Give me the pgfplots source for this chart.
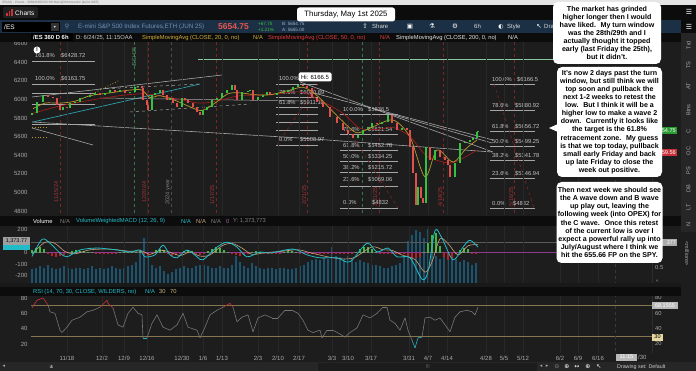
\documentclass[border=0pt]{standalone}
\usepackage{pgfplots}
\pgfplotsset{compat=1.18}
\usepackage{pgfplotstable}
\usepackage{fontspec}
\setmainfont{Liberation Sans}
\newfontfamily\dejavu{DejaVu Sans}
\newcommand{\fs}[1]{\fontsize{#1}{#1}\selectfont}

\definecolor{bg}{HTML}{1D1D1D}
\definecolor{hdr}{HTML}{0C0C0C}
\definecolor{winbar}{HTML}{E4E4E4}
\definecolor{navy}{HTML}{1B2F45}
\definecolor{lbl}{HTML}{A9A9A9}
\definecolor{fibc}{HTML}{C4C4C4}
\definecolor{tline}{HTML}{A6A6A6}
\definecolor{upg}{HTML}{34C240}
\definecolor{dnr}{HTML}{E0504C}
\definecolor{maY}{HTML}{B99A2C}
\definecolor{maR}{HTML}{A01C1C}
\definecolor{macdc}{HTML}{22BCC8}
\definecolor{sigc}{HTML}{C9A27C}
\definecolor{zeroc}{HTML}{8E3A8E}
\definecolor{volc}{HTML}{1A5470}
\definecolor{rsig}{HTML}{767676}
\definecolor{rsir}{HTML}{C8323A}
\definecolor{rsic}{HTML}{25B5C2}
\definecolor{band}{HTML}{857650}
\definecolor{dred}{HTML}{7E2424}
\definecolor{dredt}{HTML}{A03636}
\definecolor{dgreen}{HTML}{2F7A48}
\definecolor{gridc}{HTML}{282828}
\definecolor{histg}{HTML}{3DB843}
\definecolor{histr}{HTML}{B4232A}
\definecolor{tealline}{HTML}{2AA2AE}
\definecolor{hgreen}{HTML}{86C99C}
\definecolor{sidebar}{HTML}{262626}
\definecolor{emini}{HTML}{7391B6}
\definecolor{lastred}{HTML}{E8554E}
\definecolor{chg}{HTML}{3CC83C}
\definecolor{smaY}{HTML}{D4B13C}
\definecolor{smaR}{HTML}{E23B3B}
\definecolor{thirty}{HTML}{E6D8A0}
\definecolor{tan}{HTML}{C8B480}

\pgfplotsset{
  colormap={rsimap}{color(0cm)=(rsic) color(1cm)=(rsig) color(2cm)=(rsir) color(3cm)=(rsir)},
  pane/.style={
    scale only axis, width=621pt, xmin=31, xmax=652,
    axis line style={draw=none}, major tick length=0pt,
    xtick={67,102,124,147,182,203,222,258,278,299,332,348,371,409,428,447,486,504,523,560,578,598},
    xticklabels={},
    xmajorgrids, major grid style={draw=gridc, line width=0.5pt},
    yticklabel style={font=\fs{6}, text=lbl, /pgf/number format/assume math mode=true, /pgf/number format/1000 sep={}},
  },
}

\pgfplotstableread{
x o c
32 5830 5850
37 5850 5975
43 5975 6047
48 6047 6029
53 6029 6012
57 6012 5940
60 5940 5886
63 5886 5921
67 5921 5904
70 5904 5958
75 5958 5975
80 5975 6012
85 6012 6030
90 6030 6047
95 6047 6065
100 6065 6047
105 6047 6065
110 6065 6101
115 6101 6083
120 6083 6101
125 6101 6065
130 6065 6083
135 6083 6136
138 6136 6144
142 6144 6119
143 6119 5993
147 5993 5940
148 5940 5886
152 5886 6047
155 6047 6065
160 6065 6101
163 6101 6047
167 6047 5993
170 5993 6012
173 6012 5958
177 5958 5921
182 5921 6012
185 6012 5993
188 5993 5958
193 5958 5921
197 5921 5867
200 5867 5832
203 5832 5886
207 5886 5921
212 5921 5993
217 5993 6012
222 6012 6065
227 6065 6101
232 6101 6155
235 6155 6101
237 6101 5993
242 5993 6079
248 6079 6090
250 6090 6101
253 6101 5993
258 5993 6026
263 6026 6047
267 6047 6079
270 6079 6047
277 6047 6069
283 6069 6079
288 6079 6101
293 6101 6133
298 6133 6155
303 6155 6144
307 6144 6122
312 6122 6015
317 6015 5972
323 5972 5918
330 5918 5810
337 5810 5746
343 5746 5671
348 5671 5628
353 5628 5585
358 5585 5617
363 5617 5671
368 5671 5703
372 5703 5746
377 5746 5735
382 5735 5757
388 5757 5832
392 5832 5746
397 5746 5671
402 5671 5692
407 5692 5671
410 5671 5488
413 5488 5209
416 5209 4865
418 4865 5058
421 5058 4940
423 4940 4886
426 4886 5488
430 5488 5348
435 5348 5456
440 5456 5381
445 5381 5348
448 5348 5295
450 5295 5166
455 5166 5316
460 5316 5531
465 5531 5542
470 5542 5563
473 5563 5585
477 5585 5649
478 5649 5655
}\pricedata

\pgfplotstableread{
x v
32 20
36 40
40 50
44 35
48 -15
52 -30
56 -35
60 -30
64 -20
68 5
72 15
76 20
80 18
84 15
88 10
92 5
96 -5
100 -8
104 -10
108 -8
112 -6
116 -4
120 2
124 3
128 2
132 5
136 10
140 15
144 -10
148 -25
152 -15
156 20
160 35
164 25
168 -10
172 -25
176 -20
180 -10
184 15
188 25
192 15
196 -15
200 -20
204 -10
208 15
212 35
216 45
220 40
224 25
228 10
232 -10
236 -20
240 -25
244 -20
248 -10
252 8
256 15
260 10
264 -5
268 -8
272 -10
276 -6
280 -3
284 5
288 12
292 15
296 8
300 -5
304 -10
308 -15
312 -15
316 -12
320 -10
324 -8
328 -5
332 -3
336 -5
340 -10
344 -15
348 -15
352 -10
356 5
360 30
364 50
368 45
372 30
376 10
380 -8
384 -12
388 -10
392 -15
396 -12
400 -10
404 -15
408 -30
412 -45
416 -50
420 -40
424 10
428 80
432 150
436 170
440 60
444 -40
448 -60
452 -45
456 -10
460 20
464 40
468 35
472 -5
476 -15
}\histdata

\pgfplotstableread{
x m
32 .45
36 .5
40 .55
44 .5
48 .6
52 .5
56 .45
60 .5
64 .55
68 .5
72 .45
76 .5
80 .5
84 .45
88 .5
92 .55
96 .45
100 .5
104 .45
108 .5
112 .55
116 .5
120 .45
124 .5
128 .55
132 .6
136 .7
140 1.1
144 1.5
148 .9
152 .6
156 .5
160 .55
164 .4
168 .3
172 .35
176 .45
180 .5
184 .55
188 .5
192 .5
196 .55
200 .6
204 .6
208 .55
212 .5
216 .5
220 .55
224 .5
228 .5
232 .6
236 .9
240 .7
244 .55
248 .5
252 .65
256 .55
260 .5
264 .45
268 .5
272 .5
276 .45
280 .5
284 .5
288 .45
292 .45
296 .5
300 .55
304 .6
308 .7
312 .75
316 .8
320 .75
324 .85
328 .8
332 1.2
336 .9
340 .85
344 .8
348 .9
352 .8
356 .7
360 .75
364 .7
368 .65
372 .6
376 .6
380 .55
384 .5
388 .5
392 .55
396 .6
400 .65
404 .9
408 1.4
412 1.6
416 1.75
420 1.7
424 1.5
428 1.8
432 1.3
436 .9
440 .8
444 .85
448 .8
452 .9
456 .8
460 .7
464 .75
468 .7
472 .6
476 .65
}\voldata

\begin{document}
\begin{tikzpicture}[x=1pt,y=-1pt,
  t/.style={anchor=west, inner sep=0pt},
  fl/.style={anchor=west, inner sep=0pt, text=fibc, font=\fs{5.8}},
  fibline/.style={draw=tline, line width=0.6pt},
  ann/.style={fill=white, rounded corners=5pt, align=center, inner sep=1pt, text=black, font=\bfseries\fontsize{7.1}{8.1}\selectfont}]
\useasboundingbox (0,0) rectangle (696,371);
\fill[bg] (0,0) rectangle (696,371);

% ---------- decorations behind data (price pane) ----------
\foreach \xx in {60,148,216,307,379,443,514}
  \draw[dred, dashed, line width=0.6pt] (\xx,42) -- (\xx,215);
\draw[dgreen, dashed, line width=0.6pt] (134,42) -- (134,215);
\draw[dgreen, dashed, line width=0.6pt] (362,42) -- (362,215);
\draw[gray!60!black, dashed, line width=0.6pt] (171,42) -- (171,215);
\node[rotate=90, text=dredt, font=\fs{5.6}, inner sep=0] at (56,192) {11/15/24};
\node[rotate=90, text=dredt, font=\fs{5.6}, inner sep=0] at (144,192) {12/20/24};
\node[rotate=90, text=gray, font=\fs{5.6}, inner sep=0] at (168,192) {2024 year};
\node[rotate=90, text=dredt, font=\fs{5.6}, inner sep=0] at (212,195) {1/17/25};
\node[rotate=90, text=dredt, font=\fs{5.6}, inner sep=0] at (304,195) {2/21/25};
\node[rotate=90, text=dredt, font=\fs{5.6}, inner sep=0] at (375,197) {3/21/25};
\node[rotate=90, text=dredt, font=\fs{5.6}, inner sep=0] at (440,197) {4/18/25};
\node[rotate=90, text=dredt, font=\fs{5.6}, inner sep=0] at (511,197) {5/16/25};
\node[rotate=90, text=dgreen!80!white, font=\fs{5.6}, inner sep=0] at (134,57) {/ESH25};

% left fib and lines
\node[fl] at (35,56) {161.8\%}; \node[fl] at (61,56) {\$6428.72};
\draw[fibline] (32,61) -- (95,61);
\node[fl] at (35,79) {100.0\%}; \node[fl] at (61,79) {\$6163.75};
\draw[fibline] (32,84) -- (95,84);
\draw[fibline] (32,93) -- (95,93);
\draw[fibline] (32,104) -- (95,104);
\draw[fibline] (32,124) -- (95,124);
\draw[maY, dotted, line width=0.8pt] (32,127) -- (48,127);
\draw[maY, dotted, line width=0.8pt] (32,137) -- (48,137);
\draw[maY, dotted, line width=0.8pt] (90,95) -- (120,80);
\draw[tline, line width=0.6pt] (32,128) -- (93,145);
\draw[tline, line width=0.6pt] (32,122) -- (300,138) -- (492,152);
\draw[tline, line width=0.6pt] (32,97) -- (222,75);
\draw[tealline, line width=0.7pt] (33,122) -- (200,84);
\draw[tline, dashed, line width=0.5pt] (100,89) -- (200,84);
\draw[tline, dashed, line width=0.5pt] (130,112) -- (250,104);
\draw[tline, line width=0.5pt] (100,98) -- (300,101);
\draw[hgreen, line width=0.7pt] (198,59) -- (600,59);
\draw[tline, line width=0.6pt] (300,82) -- (493,152);
\draw[tline, line width=0.6pt] (310,92) -- (493,140);
\draw[tline, line width=0.6pt] (387,113) -- (492,143);

% fib A
\foreach \yy in {84,97,107.5,114.5,122,130.5,145} \draw[fibline] (276,\yy) -- (318,\yy);
\draw[dred, dashed, line width=0.6pt] (277,145) -- (318,84);
\node[fl] at (279,79) {100.0\%};
\node[fl] at (279,93) {78.6\%}; \node[fl] at (300,93) {\$6020.89};
\node[fl] at (279,103) {61.8\%}; \node[fl] at (300,103) {\$5911.16};
\node[fl] at (279,140) {0.0\%}; \node[fl] at (300,140) {\$5508.97};
% fib B
\foreach \yy in {114.6,134.6,150.3,161.3,172.3,186,208} \draw[fibline] (340,\yy) -- (398,\yy);
\draw[dred, dashed, line width=0.6pt] (339,114.6) -- (398,208);
\node[fl] at (343,110) {100.0\%}; \node[fl] at (368,110) {\$5836.5};
\node[fl] at (343,130) {78.6\%}; \node[fl] at (368,130) {\$5621.54};
\node[fl] at (343,145.5) {61.8\%}; \node[fl] at (368,145.5) {\$5452.78};
\node[fl] at (343,156.5) {50.0\%}; \node[fl] at (368,156.5) {\$5334.25};
\node[fl] at (343,167.5) {38.2\%}; \node[fl] at (368,167.5) {\$5215.72};
\node[fl] at (343,180) {23.6\%}; \node[fl] at (368,180) {\$5069.06};
\node[fl] at (343,203) {0.0\%}; \node[fl] at (372,203) {\$4832};
% fib C
\foreach \yy in {84,110.5,131.3,146,160.6,178.7,208} \draw[fibline] (490,\yy) -- (535,\yy);
\draw[dred, dashed, line width=0.6pt] (494,84) -- (534,208);
\node[fl] at (492,79.5) {100.0\%}; \node[fl] at (517,79.5) {\$6166.5};
\node[fl] at (492,106) {78.6\%}; \node[fl] at (515,106) {\$5880.92};
\node[fl] at (492,127) {61.8\%}; \node[fl] at (515,127) {\$5656.72};
\node[fl] at (492,141.5) {50.0\%}; \node[fl] at (515,141.5) {\$5499.25};
\node[fl] at (492,156) {38.2\%}; \node[fl] at (515,156) {\$5341.78};
\node[fl] at (492,174) {23.6\%}; \node[fl] at (515,174) {\$5146.94};
\node[fl] at (492,203.5) {0.0\%}; \node[fl] at (513,203.5) {\$4832};

% ---------- PRICE AXIS ----------
\begin{axis}[pane, at={(31pt,-42pt)}, anchor=north west, height=173pt,
  ymin=4757, ymax=6617, ytick={4800,5000,5200,5400,5600,5800,6000,6200,6400,6600}]
\addplot[maR, line width=0.7pt, smooth] coordinates {(33,5850) (60,5930) (90,5990) (120,6040) (145,6060) (170,6020) (200,5960) (220,5990) (240,6040) (270,6050) (300,6080) (320,5990) (343,5850) (360,5690) (380,5680) (393,5700) (410,5600) (427,5390) (450,5316) (465,5380) (477,5456)};
\addplot[maY, line width=0.7pt, smooth] coordinates {(33,5900) (45,5960) (60,5960) (75,5980) (90,6040) (110,6070) (130,6100) (142,6100) (150,6020) (160,6040) (175,5990) (190,5920) (202,5880) (215,5960) (228,6060) (240,6070) (255,6050) (270,6050) (290,6100) (303,6130) (315,6060) (330,5900) (345,5740) (357,5640) (372,5700) (393,5778) (410,5595) (425,5166) (437,5456) (453,5327) (466,5470) (477,5563)};
\addplot[draw=none, mark=none, error bars/.cd, y dir=plus, y explicit, error mark=none,
  error bar style={draw=upg, line width=2.6pt}]
  table[x=x, y expr={\thisrow{c}>\thisrow{o} ? \thisrow{o} : nan}, y error expr={\thisrow{c}-\thisrow{o}}] {\pricedata};
\addplot[draw=none, mark=none, error bars/.cd, y dir=plus, y explicit, error mark=none,
  error bar style={draw=dnr, line width=2.6pt}]
  table[x=x, y expr={\thisrow{c}<\thisrow{o} ? \thisrow{c} : nan}, y error expr={\thisrow{o}-\thisrow{c}}] {\pricedata};
\end{axis}

% ---------- VOLUME (behind MACD) ----------
\begin{axis}[pane, at={(31pt,-226pt)}, anchor=north west, height=57pt,
  ymin=0, ymax=1.9, ytick=\empty, xmajorgrids=false]
\addplot[ycomb, volc, line width=1.5pt] table[x=x, y=m] {\voldata};
\addplot[color=gray!70!black, line width=0.5pt] coordinates {(31,1.3738) (652,1.3738)};
\end{axis}

% ---------- MACD ----------
\begin{axis}[pane, at={(31pt,-226pt)}, anchor=north west, height=57pt,
  ymin=-264, ymax=232, ytick={-200,-100,0,200}]
\addplot[zeroc, line width=0.6pt] coordinates {(31,0) (652,0)};
\addplot[ycomb, histg, line width=1.6pt] table[x=x, y expr={\thisrow{v}>0 ? \thisrow{v} : nan}] {\histdata};
\addplot[ycomb, histr, line width=1.6pt] table[x=x, y expr={\thisrow{v}<0 ? \thisrow{v} : nan}] {\histdata};
\addplot[sigc, line width=0.6pt, smooth] coordinates {(32,-10) (45,90) (55,80) (65,10) (75,-10) (90,25) (110,30) (130,12) (142,15) (150,-15) (160,20) (168,10) (180,-25) (190,5) (200,-30) (210,-20) (222,60) (232,80) (242,40) (252,-15) (265,0) (280,10) (298,25) (312,-5) (330,-40) (345,-55) (355,-40) (372,50) (383,25) (392,20) (402,-20) (415,-60) (425,-170) (432,-80) (440,120) (448,80) (458,-20) (468,60) (478,70)};
\addplot[macdc, line width=0.8pt, smooth] coordinates {(32,-34) (42,116) (50,82) (60,-3) (67,-36) (80,23) (97,40) (117,23) (130,6) (140,23) (145,-36) (155,-19) (163,65) (170,-19) (177,-45) (187,23) (197,-36) (203,-62) (217,48) (227,91) (237,48) (247,-36) (260,6) (270,-3) (293,31) (307,-19) (320,-45) (337,-45) (350,-79) (367,82) (377,6) (388,40) (397,-36) (410,-45) (422,-231) (428,-164) (435,192) (442,125) (453,-62) (463,48) (470,108) (478,48)};
\end{axis}

% ---------- RSI ----------
\begin{axis}[pane, at={(31pt,-296pt)}, anchor=north west, height=57pt,
  ymin=8.3, ymax=82.6, ytick={20,40,60,80},
  xticklabels={11/18,12/2,12/9,12/16,12/30,1/6,1/13,2/3,2/10,2/17,3/3,3/10,3/17,3/31,4/7,4/14,4/28,5/5,5/12,6/2,6/9,6/16},
  xticklabel style={font=\fs{6}, text=lbl}]
\addplot[band, line width=0.7pt] coordinates {(31,70) (652,70)};
\addplot[band, line width=0.7pt] coordinates {(31,30) (652,30)};
\addplot[mesh, colormap name=rsimap, colormap access=piecewise constant, point meta=y, point meta min=-10, point meta max=110, line width=0.6pt] coordinates {(32,67) (37,77) (43,80) (48,71) (50,62) (55,60) (60,38) (62,35) (67,42) (72,51) (80,55) (87,62) (93,64) (100,68) (107,77) (108,73) (113,67) (118,45) (123,42) (128,60) (133,68) (138,60) (142,58) (143,28) (147,28) (152,47) (157,58) (163,42) (170,38) (177,45) (183,60) (188,42) (197,38) (200,28) (205,42) (210,58) (217,64) (223,68) (230,73) (233,68) (237,49) (242,55) (248,58) (253,36) (258,54) (265,58) (272,54) (278,54) (285,64) (292,64) (298,60) (303,51) (308,38) (313,35) (320,38) (322,28) (327,38) (333,38) (340,33) (345,29) (350,35) (357,41) (363,58) (370,54) (377,60) (383,68) (387,68) (390,51) (395,47) (400,38) (405,54) (408,38) (412,25) (415,15) (418,28) (422,29) (425,54) (430,55) (435,51) (440,54) (445,45) (450,36) (455,55) (460,62) (467,64) (472,62) (475,58) (478,68)};
\end{axis}

% ---------- overlays ----------
\draw[gray!45!black, dashed, line width=0.5pt] (615,42) -- (615,353);
\draw[gray!35!black, line width=0.5pt] (652,42) -- (652,353);
\fill[white] (37,50) circle (3.5);
\node[font=\bfseries\fs{5.5}, text=black, inner sep=0] at (37,50) {!};
\node[fill=white, rounded corners=1.5pt, inner sep=1pt, font=\fs{6}, text=black, minimum width=33pt, minimum height=9pt] at (315,77) {Hi: 6166.5};

\fill[upg!80!black] (648,127.5) rectangle (677,134.5);
\node[anchor=east, inner sep=0, text=white, font=\fs{5.6}] at (676,131) {5654.75};
\fill[rsir] (648,149) rectangle (677,156);
\node[anchor=east, inner sep=0, text=white, font=\fs{5.6}] at (676,152.5) {5459.56};

\fill[macdc] (3,245) rectangle (30,250);
\fill[gray!75] (3,237.5) rectangle (30,245);
\node[inner sep=0, text=black, font=\fs{5.4}] at (16.5,241.3) {1,373.77};
\fill[gray!65] (662,239.5) rectangle (677,246.5);
\node[anchor=east, inner sep=0, text=white, font=\fs{5.4}] at (676,243) {377};
\node[anchor=west, inner sep=0, text=lbl, font=\fs{5.8}] at (655,268) {0.5};
\node[anchor=west, inner sep=0, text=lbl, font=\fs{5}] at (656,282) {\^{}};
\node[rotate=-90, inner sep=0, text=lbl, font=\fs{5.4}] at (687,254) {<millions>};

\node[anchor=west, inner sep=0, text=lbl, font=\fs{5.8}] at (655,298) {80};
\node[anchor=west, inner sep=0, text=lbl, font=\fs{5.8}] at (655,314) {60};
\node[anchor=west, inner sep=0, text=lbl, font=\fs{5.8}] at (655,329) {40};
\node[anchor=west, inner sep=0, text=lbl, font=\fs{5.8}] at (655,344) {20};
\fill[gray!55] (652,302.5) rectangle (678,309.5);
\node[inner sep=0, text=white, font=\fs{5.5}] at (665,306) {68.1555};
\fill[thirty] (652,333.5) rectangle (663,340.5);
\node[inner sep=0, text=black, font=\fs{5.5}] at (657.5,337) {30};
\fill[gray!55] (616,353.5) rectangle (637,360.5);
\node[inner sep=0, text=white, font=\fs{5.6}] at (626.5,357) {11:15};
\node[anchor=west, inner sep=0, text=lbl, font=\fs{6}] at (638,357) {/30};

% ---------- header rows ----------
\fill[winbar] (0,0) rectangle (696,5);
\node[t, text=gray, font=\fs{3.2}] at (2,2.5) {/ES(M) - Charts - 968945056SCHW Main@thinkorswim [build 1985]};
\fill[hdr] (0,5) rectangle (696,20);
\fill[gray!25!black, rounded corners=2pt] (3,7) rectangle (38,18);
\fill[rsir] (6,13) rectangle (7.5,16); \fill[rsir] (8.5,11) rectangle (10,16); \fill[rsir] (11,9.5) rectangle (12.5,16);
\node[t, text=white, font=\fs{6.5}] at (15,12.7) {Charts};
\fill[navy] (0,20) rectangle (681,33);
\fill[black] (2,22) rectangle (60,32);
\fill[gray!40!black] (51,23) rectangle (59,31);
\node[inner sep=0, text=white, font=\fs{4}] at (55,27) {\dejavu ▾};
\node[t, text=white, font=\fs{6.5}] at (4,27) {/ES};
\node[inner sep=0, text=emini, font=\fs{6}] at (67,27) {\dejavu ⚲};
\node[t, text=emini, font=\fs{6.3}] at (78,27) {E-mini S\&P 500 Index Futures,ETH (JUN 25)};
\node[t, text=lastred, font=\bfseries\fs{8.5}] at (218,27) {5654.75};
\node[t, text=chg, font=\fs{4.6}] at (258,23.8) {+67.75};
\node[t, text=chg, font=\fs{4.6}] at (258,29.8) {+1.21\%};
\node[t, text=emini!70!white, font=\fs{4.6}] at (282,23.8) {B: 5654.75};
\node[t, text=emini!70!white, font=\fs{4.6}] at (282,29.8) {A: 5655.00};
\node[inner sep=0, text=white, font=\fs{6.5}] at (365,26.5) {\dejavu ⇪};
\node[t, text=white!85!black, font=\fs{6}] at (372,26.5) {Share};
\node[inner sep=0, text=white, font=\fs{6.5}] at (410,26.5) {\dejavu ▣};
\node[inner sep=0, text=white, font=\fs{6.5}] at (432,26.5) {\dejavu ⚗};
\node[inner sep=0, text=white, font=\fs{6.5}] at (455,26.5) {\dejavu ⚙};
\node[t, text=white!85!black, font=\fs{6}] at (474,26.5) {6h};
\node[inner sep=0, text=white, font=\fs{6}] at (501,26.5) {\dejavu ◐};
\node[t, text=white!85!black, font=\fs{6}] at (507,26.5) {Style};
\node[inner sep=0, text=white, font=\fs{6.5}] at (539,26.5) {\dejavu ↖};
\node[t, text=white!85!black, font=\fs{6}] at (544,26.5) {Draw};
\fill[hdr] (0,33) rectangle (681,42);
\fill[black] (31,33.5) rectangle (73,41.5);
\node[t, text=white, font=\bfseries\fs{5.9}] at (33,37.6) {/ES 360 D 6h};
\node[t, text=white!80!black, font=\fs{5.8}] at (76,37.6) {D: 6/24/25, 11:15OAA};
\node[t, text=smaY, font=\fs{5.8}] at (142,37.6) {SimpleMovingAvg (CLOSE, 20, 0, no)};
\node[t, text=smaY, font=\fs{5.8}] at (253,37.6) {N/A};
\node[t, text=smaR, font=\fs{5.8}] at (268,37.6) {SimpleMovingAvg (CLOSE, 50, 0, no)};
\node[t, text=smaR, font=\fs{5.8}] at (380,37.6) {N/A};
\node[t, text=white!90!black, font=\fs{5.8}] at (396,37.6) {SimpleMovingAvg (CLOSE, 200, 0, no)};
\node[t, text=white!90!black, font=\fs{5.8}] at (508,37.6) {N/A};
\fill[hdr] (0,216) rectangle (681,226);
\node[t, text=white, font=\fs{5.8}] at (33,221.3) {Volume};
\node[t, text=gray, font=\fs{5.8}] at (60,221.3) {N/A};
\node[t, text=macdc, font=\fs{5.8}] at (76,221.3) {VolumeWeightedMACD (12, 26, 9)};
\node[t, text=macdc, font=\fs{5.8}] at (181,221.3) {N/A};
\node[t, text=sigc, font=\fs{5.8}] at (196,221.3) {N/A};
\node[t, text=gray, font=\fs{5.8}] at (211,221.3) {N/A};
\node[t, text=zeroc!80!white, font=\fs{5.8}] at (226,221.3) {0};
\node[t, text=gray, font=\fs{5.8}] at (233,221.3) {Y: 1,373,773};
\fill[black!90] (0,283.5) rectangle (681,287);
\fill[hdr] (0,287) rectangle (681,296);
\node[t, text=macdc, font=\fs{5.8}] at (33,291.5) {RSI (14, 70, 30, CLOSE, WILDERS, no)};
\node[t, text=macdc, font=\fs{5.8}] at (145,291.5) {N/A};
\node[t, text=tan, font=\fs{5.8}] at (159,291.5) {30};
\node[t, text=tan, font=\fs{5.8}] at (170,291.5) {70};

\fill[black!85] (0,362) rectangle (696,371);
\node[inner sep=0, text=lbl, font=\fs{5}] at (4,366.5) {\dejavu ◂};
\fill[gray!30!black] (43,363) rectangle (60,370.5);
\node[inner sep=0, text=white, font=\fs{5}] at (51.5,366.7) {\dejavu ±};
\fill[gray!22!black] (318,363) rectangle (537,370.5);
\node[inner sep=0, text=gray, font=\fs{4}] at (428,366.7) {|||};
\node[inner sep=0, text=lbl, font=\fs{5}] at (541,366.7) {\dejavu ◂};
\node[inner sep=0, text=lbl, font=\fs{5}] at (547,366.7) {\dejavu ▸};
\node[inner sep=0, text=gray, font=\fs{6}] at (557,366.7) {\dejavu ⊖};
\node[inner sep=0, text=white, font=\fs{6}] at (567,366.7) {\dejavu ⊕};
\node[inner sep=0, text=white, font=\fs{6}] at (577,366.7) {\dejavu ↔};
\node[inner sep=0, text=white, font=\fs{6}] at (588,366.7) {\dejavu ⊕};
\node[inner sep=0, text=white, font=\fs{6}] at (599,366.7) {\dejavu ↖};
\node[t, text=white!80!black, font=\fs{5.3}] at (617,366.7) {Drawing set: Default};

\fill[sidebar] (681,5) rectangle (696,232);
\fill[hdr] (681,5) rectangle (696,33);
\node[inner sep=0, text=white, font=\fs{7}] at (689,12) {\dejavu ☰};
\node[inner sep=0, text=white, font=\fs{7}] at (689,27) {\dejavu ☰};
\foreach \yy in {55,75,97,122,140,162,180,198,216}
  \draw[gray!30!black, line width=0.6pt] (681,\yy) -- (696,\yy);
\foreach \yy/\tt in {45/Trd,65/TS,86/AT,110/Btns,131/C,151/OC,171/PS,189/DB,207/LT,224/N}
  \node[rotate=90, inner sep=0, text=lbl, font=\fs{5.6}] at (688.5,\yy) {\tt};

\node[fill=white, rounded corners=2.5pt, minimum width=98pt, minimum height=14pt, inner sep=0, font=\fs{7.8}, text=black] at (346,14.5) {Thursday, May 1st 2025};

\node[ann, minimum width=108pt, minimum height=62pt] at (607,33) {The market has grinded\\higher longer then I would\\have liked.~ My turn window\\was the 28th/29th and I\\actually thought it topped\\early (last Friday the 25th),\\but it didn't.};
\fill[white] (558,124) -- (549,128) -- (558,132) -- cycle;
\node[ann, minimum width=105pt, minimum height=110pt] at (609.5,122) {It's now 2 days past the turn\\window, but still think we will\\top soon and pullback the\\next 1-2 weeks to retest the\\low.~ But I think it will be a\\higher low to make a wave 2\\down.~ Currently it looks like\\the target is the 61.8\%\\retracement zone.~ My guess\\is that we top today, pullback\\small early Friday and back\\up late Friday to close the\\week out positive.};
\node[ann, minimum width=106pt, minimum height=81pt] at (609.5,222.5) {Then next week we should see\\the A wave down and B wave\\up play out, leaving the\\following week (into OPEX) for\\the C wave.~ Once this retest\\of the current low is over I\\expect a powerful rally up into\\July/August where I think we\\hit the 655.66 FP on the SPY.};
\end{tikzpicture}
\end{document}
